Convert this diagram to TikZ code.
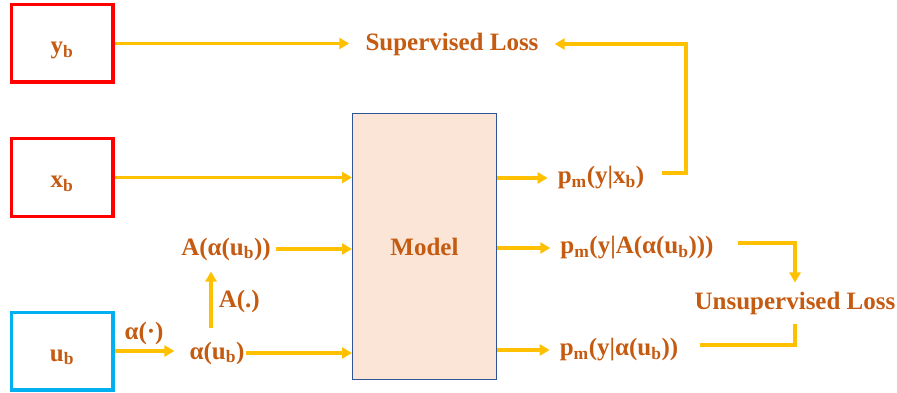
\documentclass[tikz,border=0pt]{standalone}
\usepackage{fontspec}
\setmainfont{Liberation Serif}
\usepackage{xcolor}
\usepackage{tikz}
\usetikzlibrary{arrows.meta}

\definecolor{lossbrown}{RGB}{197,90,17}
\definecolor{flowgold}{RGB}{255,192,0}
\definecolor{unlblue}{RGB}{0,176,240}
\definecolor{modelfill}{RGB}{251,229,214}
\definecolor{modeledge}{RGB}{47,85,151}
\newcommand{\lsub}[1]{\textsubscript{#1}}

\begin{document}
\begin{tikzpicture}[x=1pt,y=-1pt,
    lbl/.style={text=lossbrown, font=\bfseries\fontsize{25}{30}\selectfont, inner sep=1pt},
    inbox/.style={lbl, draw, line width=3.5pt, minimum width=101.5pt, minimum height=77.5pt, text height=24pt, text depth=4pt},
    link/.style={flowgold, line width=3.5pt},
    flow/.style={link, -{Triangle[length=10pt,width=11pt]}}]
    \useasboundingbox (0,0) rectangle (897,393);
    % inputs and model
    \node[inbox, draw=red] (yb) at (62,43.5) {y\lsub{b}};
    \node[inbox, draw=red] (xb) at (62,177.5) {x\lsub{b}};
    \node[inbox, draw=unlblue] (ub) at (62,351) {u\lsub{b}};
    \node[lbl, draw=modeledge, fill=modelfill, line width=1pt, minimum width=144pt, minimum height=266pt] (model) at (424.5,246.5) {Model};
    % texts
    \node[lbl] (sup) at (452,44) {Supervised Loss};
    \node[lbl] (unsup) at (795,303) {Unsupervised Loss};
    \node[lbl] (Aau) at (226,249) {A(α(u\lsub{b}))};
    \node[lbl] (au) at (217,353) {α(u\lsub{b})};
    \node[lbl] (pmx) at (601,178) {p\lsub{m}(y|x\lsub{b})};
    \node[lbl] (pmA) at (637,248) {p\lsub{m}(y|A(α(u\lsub{b})))};
    \node[lbl] (pma) at (619,350) {p\lsub{m}(y|α(u\lsub{b}))};
    \coordinate (fbk) at (686,44);
    % arrows
    \draw[flow, shorten >=15pt] (yb.east) -- (yb.east -| sup.west);
    \draw[flow] (xb.east) -- (xb.east -| model.west);
    \draw[flow, shorten >=14pt] (ub.east) -- node[lbl, pos=0.4, above=3pt] {α(·)} (ub.east -| au.west);
    \draw[flow, shorten <=12pt, shorten >=10pt] ([xshift=-6pt]au.north) -- node[lbl, right=5pt] {A(.)} ([xshift=-6pt]au.north |- Aau.south);
    \draw[flow] (au.east) -- (au.east -| model.west);
    \draw[flow, shorten <=4pt] (Aau.east) -- (Aau.east -| model.west);
    \draw[flow, shorten >=9pt] (model.east |- pmx.west) -- (pmx.west);
    \draw[flow, shorten >=9pt] (model.east |- pmA.west) -- (pmA.west);
    \draw[flow, shorten >=9pt] (model.east |- pma.west) -- (pma.west);
    \draw[flow, shorten <=17pt, shorten >=15pt] ([yshift=5pt]pmx.east) -| (fbk) -- (sup.east);
    \draw[flow, shorten <=23pt, shorten >=8pt] ([yshift=5pt]pmA.east) -| (unsup.north);
    \draw[link, shorten <=21pt, shorten >=8pt] ([yshift=5pt]pma.east) -| (unsup.south);
\end{tikzpicture}
\end{document}
